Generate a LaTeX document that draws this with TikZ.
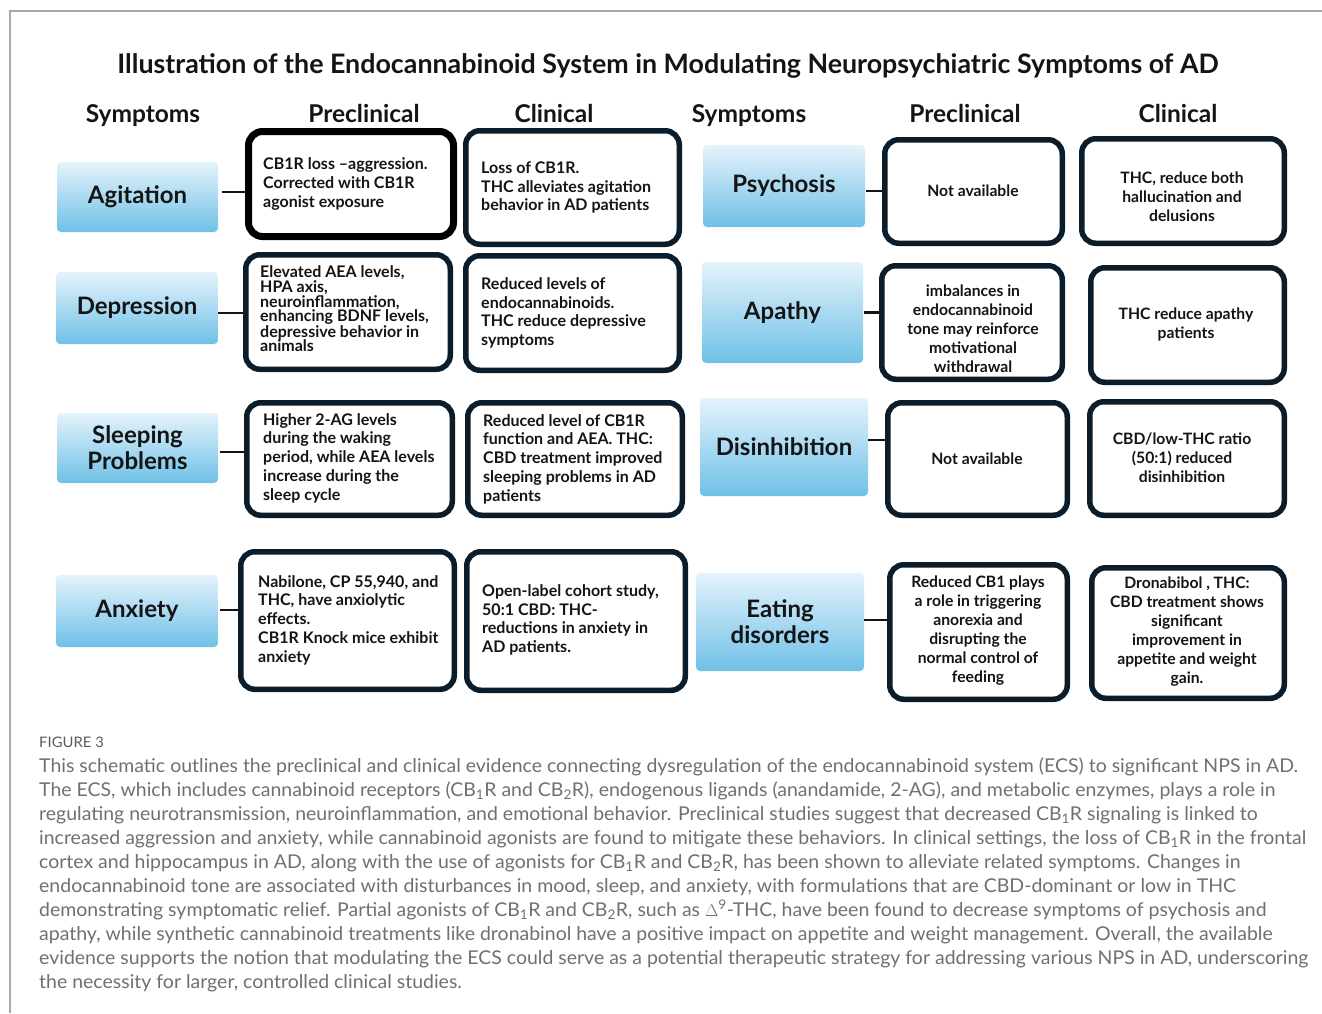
\documentclass[tikz,border=0pt]{standalone}
\usepackage{fontspec}
\setmainfont{Lato}
\newfontfamily\capfont{Lato}[FakeStretch=1.025]
\definecolor{navy}{HTML}{0B1D2B}
\definecolor{symtop}{HTML}{E4F3FB}
\definecolor{symbot}{HTML}{6FC0E7}
\definecolor{capgray}{HTML}{707070}
\definecolor{framegray}{HTML}{A8A8A8}
\definecolor{ink}{HTML}{141414}
\tikzset{
 symp/.style={rectangle, rounded corners=4pt, top color=symtop, bottom color=symbot, inner sep=0pt, align=center, font=\bfseries\fontsize{24}{26}\selectfont, text=ink},
 evbox/.style={rectangle, rounded corners=14pt, draw=navy, line width=5.5pt, fill=white, inner sep=0pt},
 blackbox/.style={evbox, draw=black, line width=7pt},
 ltext/.style={anchor=west, align=left, inner sep=0pt, font=\bfseries\fontsize{16}{18.7}\selectfont, text=ink},
 ctext/.style={anchor=center, align=center, inner sep=0pt, font=\bfseries\fontsize{15.7}{19}\selectfont, text=ink},
 head/.style={anchor=base, inner sep=0pt, font=\bfseries\fontsize{24.5}{27}\selectfont, text=ink},
 link/.style={draw=ink, line width=2.2pt},
 capline/.style={anchor=base west, inner sep=0pt, font=\capfont\fontsize{19}{24}\selectfont, text=capgray},
}
\begin{document}
\begin{tikzpicture}[x=1pt,y=-1pt]
\useasboundingbox[fill=white] (0,0) rectangle (1322,1013);
\draw[framegray, line width=1.2pt] (10,1013) -- (10,11) -- (1322,11);

\node[anchor=base, inner sep=0pt, font=\bfseries\fontsize{26.8}{30}\selectfont, text=ink] (title) at (668,73) {Illustration of the Endocannabinoid System in Modulating Neuropsychiatric Symptoms of AD};

\node[head] (h1) at (143,122) {Symptoms};
\node[head] (h2) at (364,122) {Preclinical};
\node[head] (h3) at (554,122) {Clinical};
\node[head] (h4) at (749,122) {Symptoms};
\node[head] (h5) at (965,122) {Preclinical};
\node[head] (h6) at (1178,122) {Clinical};

% symptom boxes
\node[symp, minimum width=161pt, minimum height=70pt] (SA) at (137.5,197) {Agitation};
\node[symp, minimum width=162pt, minimum height=72pt] (SD) at (137,308) {Depression};
\node[symp, minimum width=161pt, minimum height=70pt] (SS) at (137.5,448) {Sleeping\\Problems};
\node[symp, minimum width=162pt, minimum height=72pt] (SX) at (137,611) {Anxiety};
\node[symp, minimum width=162pt, minimum height=82pt] (SP) at (784,186) {Psychosis};
\node[symp, minimum width=161pt, minimum height=101pt] (SAp) at (782.5,312.5) {Apathy};
\node[symp, minimum width=168pt, minimum height=98pt] (SDi) at (784,447) {Disinhibition};
\node[symp, minimum width=168pt, minimum height=98pt] (SE) at (780,622) {Eating\\disorders};

% evidence boxes
\node[blackbox, minimum width=205pt, minimum height=105pt] (PA) at (351,184) {};
\node[evbox, minimum width=204.5pt, minimum height=114.5pt] (PD) at (348,312) {};
\node[evbox, minimum width=205.5pt, minimum height=112.5pt] (PS) at (349.5,459) {};
\node[evbox, minimum width=213.5pt, minimum height=137.5pt] (PX) at (347.5,620.5) {};
\node[evbox, minimum width=213.5pt, minimum height=113.5pt] (CA) at (572.5,187.5) {};
\node[evbox, minimum width=213.5pt, minimum height=114.5pt] (CD) at (572.5,313) {};
\node[evbox, minimum width=214.5pt, minimum height=112.5pt] (CS) at (575,459) {};
\node[evbox, minimum width=218.5pt, minimum height=138.5pt] (CX) at (576,621) {};
\node[evbox, minimum width=177.5pt, minimum height=103.5pt] (RPP) at (973.5,191.5) {};
\node[evbox, minimum width=180.5pt, minimum height=113.5pt] (RPA) at (972,322.5) {};
\node[evbox, minimum width=179.5pt, minimum height=112.5pt] (RPD) at (977.5,459) {};
\node[evbox, minimum width=177.5pt, minimum height=134.5pt] (RPE) at (978.5,632) {};
\node[evbox, minimum width=202.5pt, minimum height=104.5pt] (RCP) at (1183,191) {};
\node[evbox, minimum width=193.5pt, minimum height=114.5pt] (RCA) at (1187.5,325) {};
\node[evbox, minimum width=194.5pt, minimum height=113.5pt] (RCD) at (1187,458.5) {};
\node[evbox, minimum width=192.5pt, minimum height=130.5pt] (RCE) at (1188,633) {};

% texts
\node[ltext] (PAt) at (263,184) {CB1R loss –aggression.\\Corrected with CB1R\\agonist exposure};
\node[ltext, font=\bfseries\fontsize{16}{14.6}\selectfont] (PDt) at (260,309) {Elevated AEA levels,\\HPA axis,\\neuroinflammation,\\enhancing BDNF levels,\\depressive behavior in\\animals};
\node[ltext] (PSt) at (263,458) {Higher 2-AG levels\\during the waking\\period, while AEA levels\\increase during the\\sleep cycle};
\node[ltext] (PXt) at (258,620) {Nabilone, CP 55,940, and\\THC, have anxiolytic\\effects.\\CB1R Knock mice exhibit\\anxiety};
\node[ltext] (CAt) at (481,187.5) {Loss of CB1R.\\THC alleviates agitation\\behavior in AD patients};
\node[ltext] (CDt) at (481,313) {Reduced levels of\\endocannabinoids.\\THC reduce depressive\\symptoms};
\node[ltext] (CSt) at (483,459) {Reduced level of CB1R\\function and AEA. THC:\\CBD treatment improved\\sleeping problems in AD\\patients};
\node[ltext] (CXt) at (482,620) {Open-label cohort study,\\50:1 CBD: THC-\\reductions in anxiety in\\AD patients.};
\node[ctext] (RPPt) at (973,191) {Not available};
\node[ctext] (RPAt) at (973,329) {imbalances in\\endocannabinoid\\tone may reinforce\\motivational\\withdrawal};
\node[ctext] (RPDt) at (977,459) {Not available};
\node[ctext] (RPEt) at (978,630.5) {Reduced CB1 plays\\a role in triggering\\anorexia and\\disrupting the\\normal control of\\feeding};
\node[ctext] (RCPt) at (1182,197) {THC, reduce both\\hallucination and\\delusions};
\node[ctext] (RCAt) at (1186,324.5) {THC reduce apathy\\patients};
\node[ctext] (RCDt) at (1182,458) {CBD/low-THC ratio\\(50:1) reduced\\disinhibition};
\node[ctext] (RCEt) at (1187,632) {Dronabibol , THC:\\CBD treatment shows\\significant\\improvement in\\appetite and weight\\gain.};

% connectors
\draw[link] ([xshift=4pt,yshift=5pt]SA.east) -- ([yshift=5pt]SA.east -| PA.west);
\draw[link] ([yshift=-5pt]SD.east) -- ([yshift=-5pt]SD.east -| PD.west);
\draw[link] ([xshift=2pt,yshift=-4pt]SS.east) -- ([yshift=-4pt]SS.east -| PS.west);
\draw[link] ([xshift=2pt,yshift=1pt]SX.east) -- ([yshift=1pt]SX.east -| PX.west);
\draw[link] ([xshift=1pt,yshift=-5pt]SP.east) -- ([yshift=-5pt]SP.east -| RPP.west);
\draw[link] ([xshift=1pt]SAp.east) -- (SAp.east -| RPA.west);
\draw[link] ([yshift=7pt]SDi.east) -- ([yshift=7pt]SDi.east -| RPD.west);
\draw[link] ([yshift=2pt]SE.east) -- ([yshift=2pt]SE.east -| RPE.west);

% caption
\node[anchor=base west, inner sep=0pt, font=\capfont\fontsize{14.5}{18}\selectfont, text=capgray!80!black] (figlabel) at (39,747) {FIGURE 3};
\node[capline] (cap1) at (39,772) {This schematic outlines the preclinical and clinical evidence connecting dysregulation of the endocannabinoid system (ECS) to significant NPS in AD.};
\node[capline] (cap2) at (39,796) {The ECS, which includes cannabinoid receptors (CB\textsubscript{1}R and CB\textsubscript{2}R), endogenous ligands (anandamide, 2-AG), and metabolic enzymes, plays a role in};
\node[capline] (cap3) at (39,820) {regulating neurotransmission, neuroinflammation, and emotional behavior. Preclinical studies suggest that decreased CB\textsubscript{1}R signaling is linked to};
\node[capline] (cap4) at (39,844) {increased aggression and anxiety, while cannabinoid agonists are found to mitigate these behaviors. In clinical settings, the loss of CB\textsubscript{1}R in the frontal};
\node[capline] (cap5) at (39,868) {cortex and hippocampus in AD, along with the use of agonists for CB\textsubscript{1}R and CB\textsubscript{2}R, has been shown to alleviate related symptoms. Changes in};
\node[capline] (cap6) at (39,892) {endocannabinoid tone are associated with disturbances in mood, sleep, and anxiety, with formulations that are CBD-dominant or low in THC};
\node[capline] (cap7) at (39,916) {demonstrating symptomatic relief. Partial agonists of CB\textsubscript{1}R and CB\textsubscript{2}R, such as $\Delta$\textsuperscript{9}-THC, have been found to decrease symptoms of psychosis and};
\node[capline] (cap8) at (39,940) {apathy, while synthetic cannabinoid treatments like dronabinol have a positive impact on appetite and weight management. Overall, the available};
\node[capline] (cap9) at (39,964) {evidence supports the notion that modulating the ECS could serve as a potential therapeutic strategy for addressing various NPS in AD, underscoring};
\node[capline] (cap10) at (39,988) {the necessity for larger, controlled clinical studies.};
\end{tikzpicture}
\end{document}
